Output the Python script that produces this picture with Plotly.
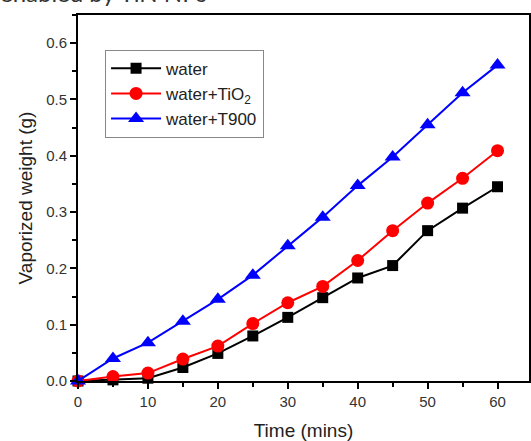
import plotly.graph_objects as go

time = [0, 5, 10, 15, 20, 25, 30, 35, 40, 45, 50, 55, 60]
water = [0, 0.002, 0.005, 0.024, 0.049, 0.080, 0.113, 0.148, 0.183, 0.205, 0.267, 0.307, 0.345]
water_tio2 = [0, 0.008, 0.014, 0.039, 0.062, 0.102, 0.139, 0.168, 0.214, 0.267, 0.316, 0.360, 0.409]
water_t900 = [0, 0.040, 0.068, 0.106, 0.145, 0.188, 0.240, 0.291, 0.347, 0.398, 0.455, 0.512, 0.561]

x_ticks = [0, 10, 20, 30, 40, 50, 60]
y_ticks = [0.0, 0.1, 0.2, 0.3, 0.4, 0.5, 0.6]
y_tick_labels = ["0.0", "0.1", "0.2", "0.3", "0.4", "0.5", "0.6"]

series = [
    ("water", water, "black", "square", 11),
    ("water+TiO<sub>2</sub>", water_tio2, "#ff0000", "circle", 13),
    ("water+T900", water_t900, "#0000ff", "triangle-up", 14),
]

fig = go.Figure()
for name, vals, color, sym, size in series:
    fig.add_trace(go.Scatter(
        x=time, y=vals, name=name, mode="lines+markers",
        line=dict(color=color, width=2),
        marker=dict(symbol=sym, size=size, color=color, line=dict(width=0)),
        cliponaxis=False,
    ))

font_family = "Liberation Sans, Arial, sans-serif"
axis_font = dict(family=font_family, size=15, color="#333333")
title_font = dict(family=font_family, size=19, color="#222222")
fig.update_layout(
    width=531, height=441,
    margin=dict(l=78, r=2, t=15, b=60),
    paper_bgcolor="white", plot_bgcolor="white",
    showlegend=True,
    legend=dict(
        x=0.06, y=0.905, xanchor="left", yanchor="top",
        bgcolor="white", bordercolor="#888888", borderwidth=1,
        font=dict(family=font_family, size=17, color="#222222"),
        itemwidth=50, tracegroupgap=0,
    ),
    xaxis=dict(
        range=[0, 64.5], tickmode="array", tickvals=x_ticks,
        ticks="outside", ticklen=6, tickwidth=2, tickcolor="black",
        minor=dict(dtick=5, ticks="outside", ticklen=4, tickwidth=2, tickcolor="black"),
        showline=True, linecolor="black", linewidth=2, mirror=True,
        showgrid=False, zeroline=False, tickfont=axis_font, automargin=False,
        title=dict(text="Time (mins)", font=title_font, standoff=16),
    ),
    yaxis=dict(
        range=[0, 0.65], tickmode="array", tickvals=y_ticks, ticktext=y_tick_labels,
        ticks="outside", ticklen=6, tickwidth=2, tickcolor="black",
        minor=dict(dtick=0.05, ticks="outside", ticklen=4, tickwidth=2, tickcolor="black"),
        showline=True, linecolor="black", linewidth=2, mirror=True,
        showgrid=False, zeroline=False, tickfont=axis_font, automargin=False,
        title=dict(text="Vaporized weight (g)", font=title_font, standoff=8),
    ),
    annotations=[dict(
        text="enabled by TiN NPs", xref="paper", yref="paper",
        x=0, y=1, xanchor="left", yanchor="bottom", xshift=-80, yshift=6,
        showarrow=False,
        font=dict(family="Lato, sans-serif", size=24, color="#333333"),
    )],
)

fig.write_html(
    "out.html",
    config={"displayModeBar": False},
    post_script="document.body.style.margin='0';document.body.style.overflow='hidden';",
)
